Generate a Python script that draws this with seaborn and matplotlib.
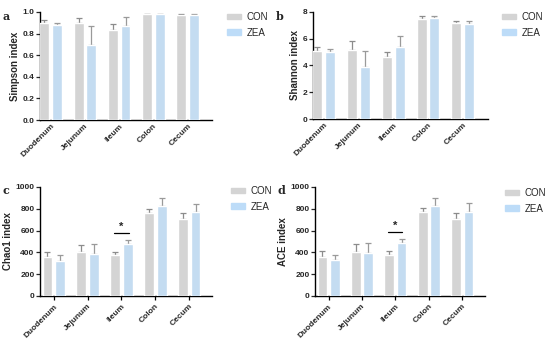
import numpy as np
import pandas as pd
import matplotlib
matplotlib.use("Agg")
import matplotlib.pyplot as plt
import seaborn as sns

# data
sites = ["Duodenum", "Jejunum", "Ileum", "Colon", "Cecum"]
groups = ["CON", "ZEA"]

simpson_con = [0.90, 0.895, 0.835, 0.978, 0.975]
simpson_con_sd = [0.025, 0.05, 0.05, 0.004, 0.004]
simpson_zea = [0.877, 0.692, 0.874, 0.978, 0.974]
simpson_zea_sd = [0.02, 0.175, 0.08, 0.004, 0.004]

shannon_con = [5.07, 5.15, 4.60, 7.48, 7.18]
shannon_con_sd = [0.28, 0.67, 0.42, 0.19, 0.12]
shannon_zea = [4.98, 3.91, 5.40, 7.57, 7.08]
shannon_zea_sd = [0.27, 1.16, 0.81, 0.15, 0.25]

chao_con = [354, 400, 378, 765, 707]
chao_con_sd = [51, 70, 27, 34, 49]
chao_zea = [323, 381, 476, 829, 768]
chao_zea_sd = [49, 98, 39, 73, 77]

ace_con = [354, 400, 378, 768, 707]
ace_con_sd = [57, 73, 34, 34, 49]
ace_zea = [326, 390, 482, 829, 768]
ace_zea_sd = [49, 92, 36, 73, 80]

panels = [
    ("a", "Simpson index", simpson_con, simpson_con_sd, simpson_zea, simpson_zea_sd,
     [0, 0.2, 0.4, 0.6, 0.8, 1.0], "{:.1f}", False),
    ("b", "Shannon index", shannon_con, shannon_con_sd, shannon_zea, shannon_zea_sd,
     [0, 2, 4, 6, 8], "{:.0f}", False),
    ("c", "Chao1 index", chao_con, chao_con_sd, chao_zea, chao_zea_sd,
     [0, 200, 400, 600, 800, 1000], "{:.0f}", True),
    ("d", "ACE index", ace_con, ace_con_sd, ace_zea, ace_zea_sd,
     [0, 200, 400, 600, 800, 1000], "{:.0f}", True),
]

W, H = 550, 341
# axes rectangles in figure fractions (left, bottom, width, height)
rects = [
    (0.073, 0.648, 0.313, 0.317),
    (0.569, 0.651, 0.318, 0.314),
    (0.073, 0.132, 0.313, 0.320),
    (0.573, 0.132, 0.309, 0.320),
]
# legend top-left corners in pixels
legend_xy = [(227, 12), (502, 12), (231, 186), (505, 188)]

palette = {"CON": "#d4d4d4", "ZEA": "#bddcf8"}
err_colors = {"CON": "#8c8c8c", "ZEA": "#9a9a9a"}

sns.set_style("white")
plt.rcParams["font.family"] = ["Liberation Sans", "DejaVu Sans"]

fig = plt.figure(figsize=(5.5, 3.41), dpi=100)

for (letter, ylabel, con, con_sd, zea, zea_sd, yticks, fmt, sig), rect, lxy in zip(panels, rects, legend_xy):
    ax = fig.add_axes(rect)
    df = pd.DataFrame({
        "site": sites * 2,
        "group": ["CON"] * 5 + ["ZEA"] * 5,
        "value": con + zea,
    })
    sns.barplot(data=df, x="site", y="value", hue="group", order=sites,
                hue_order=groups, palette=palette, errorbar=None,
                width=0.74, gap=0.22, ax=ax, zorder=3, legend=False)

    # upper-only error bars
    for cont, sd, g in zip(ax.containers, [con_sd, zea_sd], groups):
        xs = [p.get_x() + p.get_width() / 2 for p in cont]
        hs = [p.get_height() for p in cont]
        ax.errorbar(xs, hs, yerr=[np.zeros(len(sd)), sd], fmt="none",
                    ecolor=err_colors[g], elinewidth=0.9, capsize=2,
                    capthick=0.9, zorder=2)

    ax.set_ylim(0, yticks[-1])
    ax.set_yticks(yticks)
    ax.set_yticklabels([fmt.format(t) for t in yticks], fontsize=6, fontweight="bold")
    if sig:
        ax.set_xlim(-0.4, 4.68)
        ax.tick_params(axis="x", length=3, width=0.9, color="black", direction="out", bottom=True)
    else:
        ax.set_xlim(-0.31, 4.72)
        ax.tick_params(axis="x", length=0)
    ax.set_xticks(range(len(sites)))
    ax.set_xticklabels(sites, rotation=45, ha="right", rotation_mode="anchor",
                       fontsize=6, fontweight="bold")
    ax.tick_params(axis="y", length=3, width=0.9, direction="out", left=True, pad=1)
    ax.tick_params(axis="x", pad=2)
    ax.set_xlabel("")
    ax.set_ylabel(ylabel, fontsize=7, fontweight="bold", labelpad=2)
    sns.despine(ax=ax)
    for s in ["left", "bottom"]:
        ax.spines[s].set_linewidth(1.0)
        ax.spines[s].set_color("black")

    # significance mark over Ileum
    if sig:
        i = sites.index("Ileum")
        top = max(con[i] + con_sd[i], zea[i] + zea_sd[i])
        ybar = top + 0.065 * yticks[-1]
        ax.plot([i - 0.21, i + 0.21], [ybar, ybar], color="black", lw=0.9)
        ax.text(i, ybar + 0.01 * yticks[-1], "*", ha="center", va="bottom",
                fontsize=8, fontweight="bold")

    # legend
    handles = [plt.Rectangle((0, 0), 1, 1, color=palette[g]) for g in groups]
    fig.legend(handles, groups, loc="upper left",
               bbox_to_anchor=(lxy[0] / W, 1 - lxy[1] / H),
               bbox_transform=fig.transFigure, borderaxespad=0, borderpad=0,
               frameon=False, fontsize=7, handlelength=1.4, handleheight=0.55,
               labelspacing=0.6, handletextpad=0.6)

    # panel letter
    bb = ax.get_position()
    fig.text(bb.x0 - 0.068, bb.y1 - 0.012, letter, fontsize=8, fontweight="bold",
             family="DejaVu Serif", ha="left", va="center")

fig.savefig("out.png", dpi=100)
